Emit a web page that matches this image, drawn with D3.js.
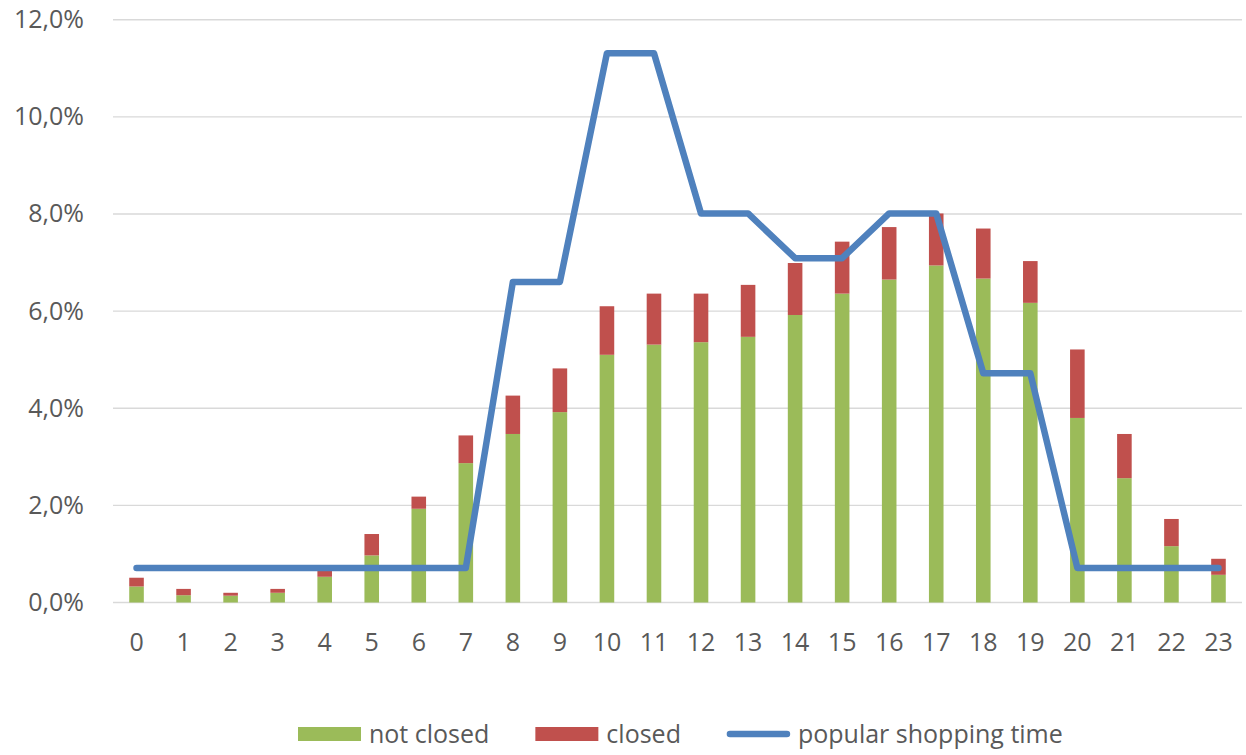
<!DOCTYPE html>
<html>
<head>
<meta charset="utf-8">
<script src="https://cdn.jsdelivr.net/npm/d3@7"></script>
<style>
  body { margin: 0; background: #fff; }
  text { font-family: "Open Sans", sans-serif; fill: #595959; }
</style>
</head>
<body>
<svg id="svg"></svg>
<script>
// hours of the day
const hours = d3.range(0, 24).map(String)

// share of visits per hour, in percent
const notClosed = [0.33, 0.15, 0.14, 0.20, 0.53, 0.97, 1.93, 2.87, 3.47, 3.92, 5.10, 5.31,
                   5.36, 5.47, 5.92, 6.36, 6.65, 6.94, 6.67, 6.17, 3.80, 2.56, 1.16, 0.57]
const closed =    [0.18, 0.13, 0.06, 0.08, 0.13, 0.44, 0.25, 0.57, 0.79, 0.90, 1.00, 1.05,
                   1.00, 1.07, 1.07, 1.07, 1.08, 1.07, 1.03, 0.86, 1.41, 0.91, 0.56, 0.33]
const popular =   [0.71, 0.71, 0.71, 0.71, 0.71, 0.71, 0.71, 0.71, 6.60, 6.60, 11.31, 11.31,
                   8.01, 8.01, 7.09, 7.09, 8.01, 8.01, 4.72, 4.72, 0.71, 0.71, 0.71, 0.71]

const yTicks = [0, 2, 4, 6, 8, 10, 12]

const seriesNames = ['not closed', 'closed', 'popular shopping time']
const colors = {'not closed': '#9BBB59', 'closed': '#C0504D', 'popular shopping time': '#4F81BD'}

var width = 1246
var height = 755
var margin = {top: 19.7, right: 4, bottom: 152.5, left: 113}
var fontSize = 25

var data = hours.map((h, i) => ({hour: h, 'not closed': notClosed[i], 'closed': closed[i], popular: popular[i]}))
var series = d3.stack().keys(['not closed', 'closed'])(data)

var x = d3.scaleBand()
  .domain(hours)
  .range([margin.left, width - margin.right])
  .paddingInner(0.69)
  .paddingOuter(0.345)

var xc = d3.scaleBand().domain(hours).range([margin.left, width - margin.right])

var y = d3.scaleLinear()
  .domain([0, 12])
  .range([height - margin.bottom, margin.top])

var fmt = v => d3.format('.1f')(v).replace('.', ',') + '%'

var svg = d3.select('#svg')
  .attr('width', width)
  .attr('height', height)

// gridlines
svg.append('g')
  .selectAll('line')
  .data(yTicks)
  .join('line')
    .attr('x1', margin.left)
    .attr('x2', width - margin.right)
    .attr('y1', d => y(d))
    .attr('y2', d => y(d))
    .attr('stroke', '#D9D9D9')
    .attr('stroke-width', 1.4)

// y axis labels
var yAxis = g => g
  .attr('transform', `translate(84,0)`)
  .call(d3.axisLeft(y).tickValues(yTicks).tickFormat(fmt).tickSize(0).tickPadding(0))
  .call(g => g.select('.domain').remove())
  .call(g => g.selectAll('text').attr('font-size', fontSize).attr('font-family', null).attr('fill', '#595959'))

svg.append('g').call(yAxis)

// stacked bars
svg.append('g')
  .selectAll('g')
  .data(series)
  .join('g')
    .attr('fill', d => colors[d.key])
  .selectAll('rect')
  .data(d => d)
  .join('rect')
    .attr('x', d => x(d.data.hour))
    .attr('y', d => y(d[1]))
    .attr('height', d => y(d[0]) - y(d[1]))
    .attr('width', x.bandwidth())

// x axis labels
var xAxis = g => g
  .attr('transform', `translate(0,${y(0) + 31})`)
  .call(d3.axisBottom(xc).tickSize(0).tickPadding(0))
  .call(g => g.select('.domain').remove())
  .call(g => g.selectAll('text').attr('font-size', fontSize).attr('font-family', null).attr('fill', '#595959').attr('dy', '0.71em'))

svg.append('g').call(xAxis)

// popular shopping time line
var line = d3.line()
  .x(d => xc(d.hour) + xc.bandwidth() / 2)
  .y(d => y(d.popular))

svg.append('path')
  .datum(data)
  .attr('fill', 'none')
  .attr('stroke', colors['popular shopping time'])
  .attr('stroke-width', 6.5)
  .attr('stroke-linejoin', 'round')
  .attr('stroke-linecap', 'round')
  .attr('d', line)

// legend
var legend = svg.append('g').attr('transform', 'translate(298,734)')
var lx = 0
seriesNames.forEach((name, i) => {
  var item = legend.append('g').attr('transform', `translate(${lx},0)`)
  if (i < 2) {
    item.append('rect')
      .attr('x', 0).attr('y', -7).attr('width', 63).attr('height', 14)
      .attr('fill', colors[name])
  } else {
    item.append('line')
      .attr('x1', 3).attr('x2', 60).attr('y1', 0).attr('y2', 0)
      .attr('stroke', colors[name]).attr('stroke-width', 6.5)
      .attr('stroke-linecap', 'round')
  }
  var t = item.append('text')
    .attr('x', 71)
    .attr('y', 0)
    .attr('dy', '0.36em')
    .attr('font-size', fontSize)
    .text(name)
  lx += 71 + t.node().getComputedTextLength() + 46
})
</script>
</body>
</html>
